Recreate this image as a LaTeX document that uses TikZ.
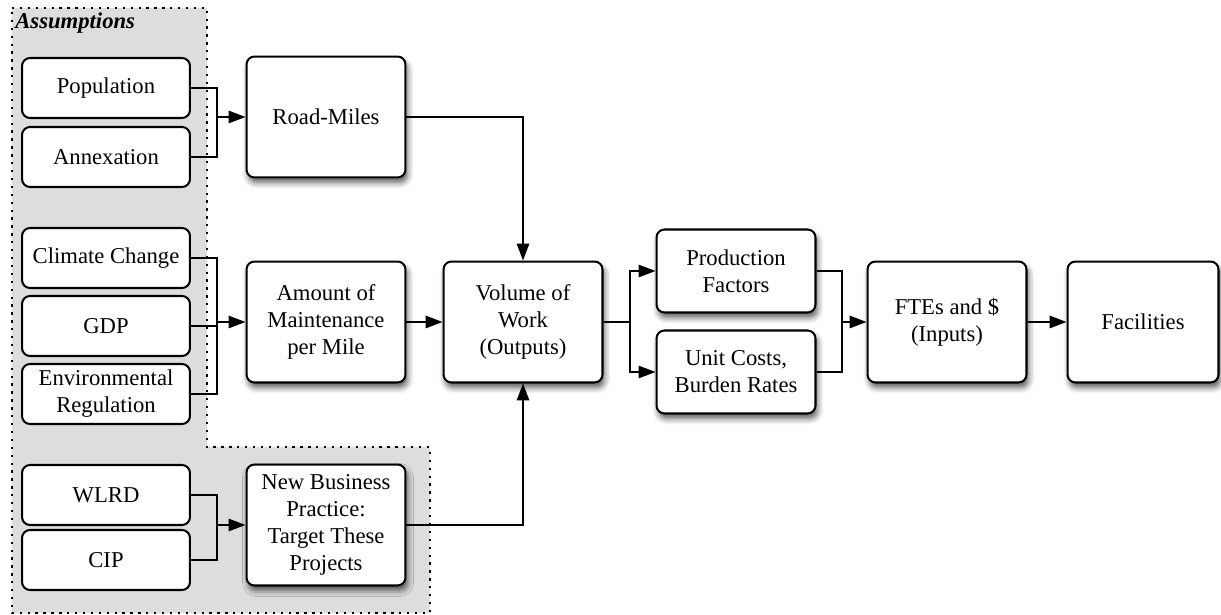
\documentclass[tikz,border=0pt]{standalone}
\usepackage{fontspec}
\setmainfont{Liberation Serif}
\usetikzlibrary{arrows.meta}
\usetikzlibrary{shadows.blur}
\definecolor{assumgray}{RGB}{221,221,221}

\begin{document}
\begin{tikzpicture}[x=0.02cm, y=-0.02cm, >={Triangle[length=0.34cm, width=0.25cm]},
    every node/.style = {font=\fontsize{12.9}{15.3}\selectfont},
    small/.style = {draw, rounded corners=0.16cm, fill=white, line width=1.15pt,
        minimum width=3.36cm, minimum height=1.2cm, align=center, inner sep=1pt},
    big/.style = {small, minimum width=3.18cm, minimum height=2.42cm,
        blur shadow={shadow xshift=0.04cm, shadow yshift=-0.1cm,
        shadow blur radius=0.12cm, shadow opacity=65}},
    mid/.style = {big, minimum height=1.66cm},
    link/.style = {line width=0.85pt}]
    \useasboundingbox (0,0) rectangle (1221,615);

    % Assumptions area
    \fill[assumgray] (12,8) -- (207,8) -- (207,447) -- (430,447) -- (430,613) -- (12,613) -- cycle;
    \draw[line width=1.3pt, dash pattern=on 1.3pt off 3.2pt] (12,8) -- (207,8) -- (207,447) -- (430,447) -- (430,613) -- (12,613) -- cycle;
    \node[anchor=base west, inner sep=0pt] (0) at (15,29) {\textbf{\textit{Assumptions}}};

    % Nodes
    \node[small] (1) at (106,88) {Population};
    \node[small] (2) at (106,157) {Annexation};
    \node[small] (3) at (106,258) {Climate Change};
    \node[small] (4) at (106,326) {GDP};
    \node[small] (5) at (106,394) {Environmental\\Regulation};
    \node[small] (6) at (106,495) {WLRD};
    \node[small] (7) at (106,560) {CIP};

    \node[big] (8) at (326,117) {Road-Miles};
    \node[big] (9) at (326,322) {Amount of\\Maintenance\\per Mile};
    \node[big] (10) at (326,525) {New Business\\Practice:\\Target These\\Projects};
    \node[big] (11) at (523,322) {Volume of\\Work\\(Outputs)};
    \node[mid] (12) at (736,271) {Production\\Factors};
    \node[mid] (13) at (736,372) {Unit Costs,\\Burden Rates};
    \node[big] (14) at (947,322) {FTEs and \$\\(Inputs)};
    \node[big, minimum width=3.02cm] (15) at (1143,322) {Facilities};

    \coordinate (j1) at (217,117);
    \coordinate (j2) at (217,322);
    \coordinate (j3) at (217,525);
    \coordinate (j4) at (630,322);
    \coordinate (j5) at (842,322);

    % Edges
    \draw[link] (1.east) -| (j1) |- (2.east);
    \draw[link, ->] (j1) -- (8.west);
    \draw[link] (3.east) -| (j2) |- (5.east);
    \draw[link] (4.east) -- (4.east -| j2);
    \draw[link, ->] (j2) -- (9.west);
    \draw[link] (6.east) -| (j3) |- (7.east);
    \draw[link, ->] (j3) -- (10.west);

    \draw[link, ->] (8.east) -| (11.north);
    \draw[link, ->] (9.east) -- (11.west);
    \draw[link, ->] (10.east) -| (11.south);

    \draw[link] (11.east) -- (j4);
    \draw[link, ->] (j4) |- (12.west);
    \draw[link, ->] (j4) |- (13.west);
    \draw[link] (12.east) -| (j5) |- (13.east);
    \draw[link, ->] (j5) -- (14.west);
    \draw[link, ->] (14.east) -- (15.west);

\end{tikzpicture}
\end{document}
